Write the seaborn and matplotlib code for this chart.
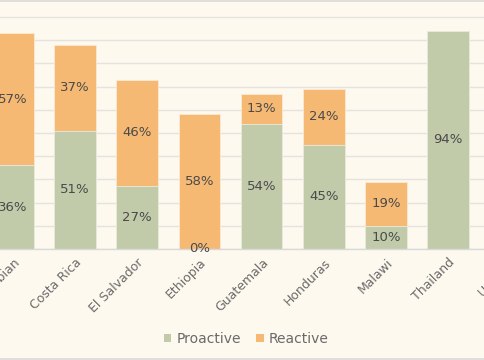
import matplotlib
matplotlib.use("Agg")
import matplotlib.pyplot as plt
from matplotlib.patches import Patch
from matplotlib.lines import Line2D
import numpy as np
import pandas as pd
import seaborn as sns

categories = ["Colombian", "Costa Rica", "El Salvador", "Ethiopia", "Guatemala",
              "Honduras", "Malawi", "Thailand", "Uganda"]
proactive = [36, 51, 27, 0, 54, 45, 10, 94, np.nan]
reactive = [57, 37, 46, 58, 13, 24, 19, np.nan, np.nan]

GREEN = "#C1CBAA"
ORANGE = "#F6B974"
BG = "#FDF9EE"
GRID = "#E6E3DF"
TXT = "#4A4A4A"
TICK = "#6A6A6A"

sns.set_theme(style="whitegrid")
plt.rcParams["font.family"] = ["DejaVu Sans"]

df = pd.DataFrame({"cat": categories, "pro": proactive, "rea": reactive})
df["total"] = df["pro"].fillna(0) + df["rea"].fillna(0)
df.loc[df["pro"].isna() & df["rea"].isna(), "total"] = np.nan

W, H = 485, 360
fig = plt.figure(figsize=(W / 100, H / 100), dpi=100, facecolor=BG)

# axes geometry in pixels
px_per_cat = 62.2
center0 = 12.8
x_left = center0 - 0.5 * px_per_cat
x_right = x_left + len(categories) * px_per_cat
y_base = 249.0
px_per_unit = 2.32
ytop_val = 102
y_top = y_base - ytop_val * px_per_unit
ax = fig.add_axes([x_left / W, 1 - y_base / H, (x_right - x_left) / W, (y_base - y_top) / H])
ax.set_facecolor(BG)

sns.barplot(data=df, x="cat", y="total", order=categories, color=ORANGE, width=0.667,
            edgecolor="#FBE9D2", linewidth=0.6, ax=ax, saturation=1, errorbar=None)
sns.barplot(data=df, x="cat", y="pro", order=categories, color=GREEN, width=0.667,
            edgecolor="#E9EDDF", linewidth=0.6, ax=ax, saturation=1, errorbar=None)

for i, (p, r) in enumerate(zip(proactive, reactive)):
    if not np.isnan(p):
        ax.text(i, p / 2, f"{int(p)}%", ha="center", va="center", fontsize=9.5, color=TXT)
    if not np.isnan(r):
        base = 0 if np.isnan(p) else p
        ax.text(i, base + r / 2, f"{int(r)}%", ha="center", va="center", fontsize=9.5, color=TXT)

ax.set_xlim(-0.5, len(categories) - 0.5)
ax.set_ylim(0, ytop_val)
ax.set_yticks(np.arange(0, 101, 10))
ax.yaxis.grid(True, color=GRID, linewidth=1)
ax.xaxis.grid(False)
ax.set_yticklabels([])
ax.tick_params(axis="y", length=0)
ax.set_xlabel("")
ax.set_ylabel("")
for s in ["top", "right", "left"]:
    ax.spines[s].set_visible(False)
ax.spines["bottom"].set_color("#D9D9D9")
ax.spines["bottom"].set_linewidth(1)
ax.set_axisbelow(True)

ax.set_xticks(range(len(categories)))
ax.set_xticklabels(categories, rotation=45, ha="right", rotation_mode="anchor",
                   fontsize=9, color=TICK)
ax.tick_params(axis="x", length=0, pad=5)

handles = [Patch(facecolor=GREEN, edgecolor="none", label="Proactive"),
           Patch(facecolor=ORANGE, edgecolor="none", label="Reactive")]
leg = fig.legend(handles=handles, loc="center", bbox_to_anchor=(246 / W, 1 - 339 / H),
                 ncol=2, frameon=False, handlelength=0.55, handleheight=0.55,
                 handletextpad=0.35, columnspacing=1.1, fontsize=10)
for t in leg.get_texts():
    t.set_color(TICK)

fig.add_artist(Line2D([0, 1], [1 - 1 / H, 1 - 1 / H], color="#D9D9D9", linewidth=1.2,
                      transform=fig.transFigure))
fig.add_artist(Line2D([0, 1], [1 - 358.5 / H, 1 - 358.5 / H], color="#D9D9D9", linewidth=1.2,
                      transform=fig.transFigure))

fig.savefig("out.png", dpi=100, facecolor=BG)
